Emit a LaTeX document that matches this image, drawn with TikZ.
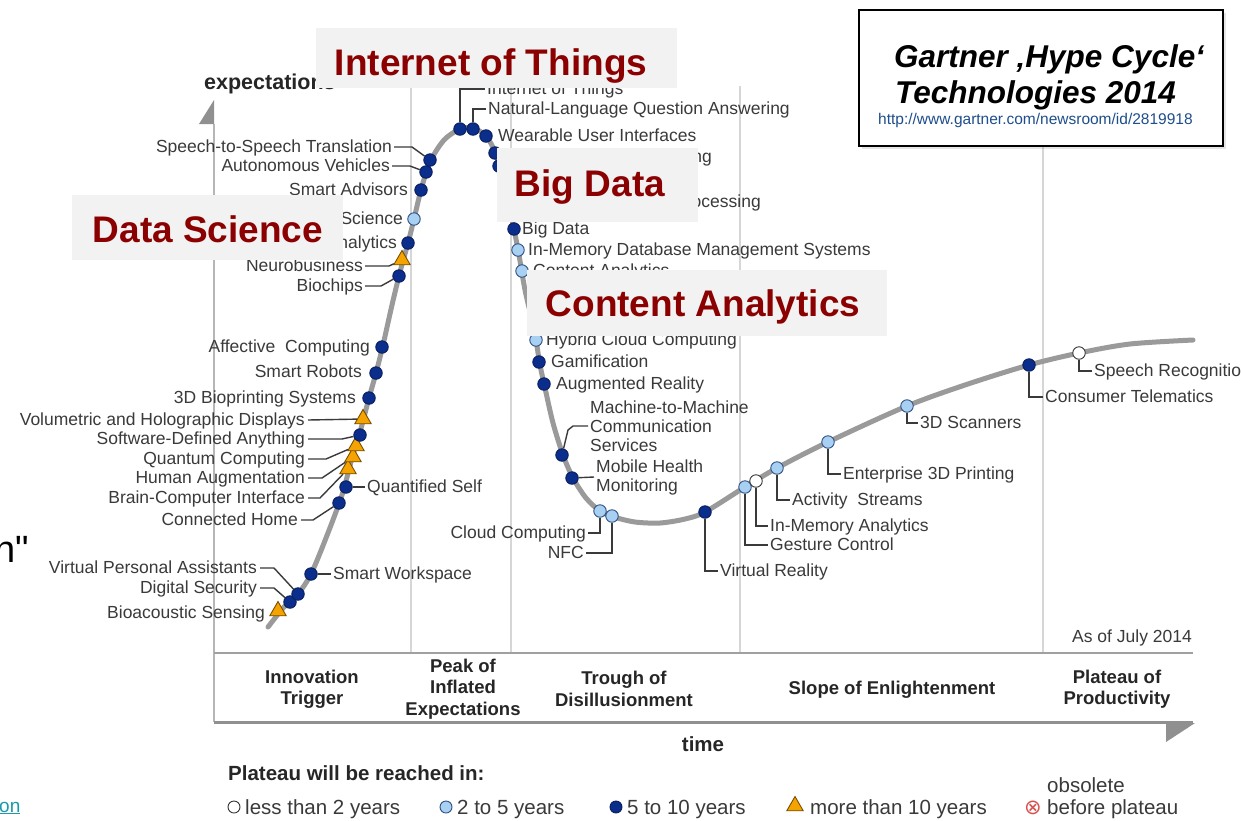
\documentclass[tikz,border=0pt]{standalone}
\usepackage{fontspec}
\setmainfont{Liberation Sans}
\newfontfamily\djv{DejaVu Sans}
\newfontfamily\rawfont[Ligatures=TeXOff]{Liberation Sans}
\usetikzlibrary{shapes.geometric,shadows}
\definecolor{dkblue}{HTML}{0B2D8C}
\definecolor{dkedge}{HTML}{0A1F5C}
\definecolor{ltblue}{HTML}{A8D0F2}
\definecolor{lbedge}{HTML}{2E4F7F}
\definecolor{whedge}{HTML}{333333}
\definecolor{trifill}{HTML}{F5A300}
\definecolor{triedge}{HTML}{7A4E00}
\definecolor{labc}{HTML}{3A3A3A}
\definecolor{leadc}{HTML}{3A3A3A}
\definecolor{gridc}{HTML}{D6D6D6}
\definecolor{axisc}{HTML}{A0A0A0}
\definecolor{curvc}{HTML}{9A9A9A}
\definecolor{boxgray}{HTML}{F2F2F2}
\definecolor{darkred}{HTML}{8B0000}
\definecolor{phasec}{HTML}{262626}
\definecolor{urlc}{HTML}{1F4E8C}
\definecolor{obsred}{HTML}{D9534F}
\definecolor{tealc}{HTML}{1B9AAA}
\tikzset{
  lbl/.style={font=\fontsize{17.5}{19}\selectfont, text=labc, inner sep=0pt},
  lab/.style={lbl, text height=12pt, text depth=0.5pt},
  mlab/.style={lbl, align=left},
  mk/.style={circle, minimum size=12.5pt, inner sep=0pt, line width=0.9pt},
  dk/.style={mk, draw=dkedge, fill=dkblue},
  lb/.style={mk, draw=lbedge, fill=ltblue},
  wh/.style={mk, draw=whedge, fill=white},
  tri/.style={regular polygon, regular polygon sides=3, minimum size=19pt, inner sep=0pt, draw=triedge, fill=trifill, line width=0.9pt},
  lead/.style={draw=leadc, line width=1.4pt},
  gridl/.style={draw=gridc, line width=2pt},
  redbox/.style={fill=boxgray, inner sep=0pt, anchor=north west},
  redtxt/.style={text=darkred, font=\bfseries\fontsize{37}{40}\selectfont, inner sep=0pt, text height=27pt, text depth=0pt},
  phase/.style={font=\bfseries\fontsize{18.5}{21.5}\selectfont, text=phasec, align=center, inner sep=0pt},
  leg/.style={font=\fontsize{20.5}{22}\selectfont, text=labc, inner sep=0pt, text height=14.5pt, text depth=0.5pt, anchor=west},
  legmk/.style={minimum size=12pt},
}
\begin{document}
\begin{tikzpicture}[x=1pt,y=-1pt]
\useasboundingbox (0,0) rectangle (1241,820);
\fill[white] (0,0) rectangle (1241,820);

% grid lines
\draw[gridl] (411,86) -- (411,653);
\draw[gridl] (511,86) -- (511,653);
\draw[gridl] (740,86) -- (740,653);
\draw[gridl] (1043,86) -- (1043,653);

% axes and phase band
\draw[draw=gridc!85!black, line width=2pt] (214,124) -- (214,722);
\fill[axisc!90!black] (214,100) -- (214,124) -- (199,124) -- cycle;
\draw[draw=axisc, line width=2.5pt] (214,653) -- (1193,653);
\draw[draw=axisc!90!black, line width=3pt] (214,722) -- (1193,722);
\fill[axisc!90!black] (1166,723) -- (1195,723) -- (1166,742) -- cycle;

% curve
\draw[draw=curvc, line width=5pt, line cap=round] plot[smooth, tension=0.5] coordinates {
(268,627) (284,607) (298,594) (311,574) (326,538) (342,495) (352,458) (360,432)
(369,398) (376,373) (383,345) (392,305) (400,272) (408,243) (414,219) (421,190)
(430,162) (444,140) (460,129) (473,128) (486,136) (495,152) (502,175) (508,200)
(514,229) (519,255) (525,290) (532,320) (536,340) (540,365) (545,388) (553,423)
(563,455) (573,478) (586,498) (600,511) (614,517) (635,522) (660,523) (685,519)
(705,512) (745,487) (777,468) (828,442) (907,406) (968,384) (1029,365) (1079,353)
(1130,344) (1193,340)};

% markers
\node[tri] (bsd) at (278,611) {};
\node[dk] (dsecd) at (290,602) {};
\node[dk] (vpad) at (298,594) {};
\node[dk] (swd) at (311,574) {};
\node[dk] (chd) at (339,503) {};
\node[dk] (qsd) at (346,487) {};
\node[tri] (bcid) at (348,469) {};
\node[tri] (had) at (353,457) {};
\node[tri] (qcd) at (356,446) {};
\node[dk] (sdad) at (360,435) {};
\node[tri] (vhdd) at (363,419) {};
\node[dk] (bpd) at (369,398) {};
\node[dk] (srd) at (376,373) {};
\node[dk] (acd) at (382,347) {};
\node[dk] (biod) at (399,276) {};
\node[tri] (neud) at (402,260) {};
\node[dk] (pad) at (408,243) {};
\node[lb] (dscd) at (414,219) {};
\node[dk] (sad) at (421,190) {};
\node[dk] (avd) at (426,172) {};
\node[dk] (s2sd) at (430,160) {};
\node[dk] (iotd) at (460,129) {};
\node[dk] (nlqd) at (473,129) {};
\node[dk] (wuid) at (486,136) {};
\node[dk] (c3dd) at (495,153) {};
\node[dk] (cryd) at (499,166) {};
\node[dk] (bdd) at (514,229) {};
\node[lb] (imdd) at (518,250) {};
\node[lb] (cad) at (522,271) {};
\node[lb] (hccd) at (536,340) {};
\node[dk] (gamd) at (539,362) {};
\node[dk] (ard) at (544,384) {};
\node[dk] (m2md) at (562,455) {};
\node[dk] (mhmd) at (572,478) {};
\node[lb] (ccd) at (600,511) {};
\node[lb] (nfcd) at (612,516) {};
\node[dk] (vrd) at (705,512) {};
\node[lb] (gcd) at (745,487) {};
\node[wh] (imad) at (756,481) {};
\node[lb] (asd) at (777,468) {};
\node[lb] (e3dd) at (828,442) {};
\node[lb] (s3dd) at (907,406) {};
\node[dk] (ctd) at (1029,365) {};
\node[wh] (sprd) at (1079,353) {};

% left labels
\node[lab, anchor=east] (s2sl) at (392,147) {Speech-to-Speech Translation};
\node[lab, anchor=east] (avl) at (390,166) {Autonomous Vehicles};
\node[lab, anchor=east] (sal) at (408,190) {Smart Advisors};
\node[lab, anchor=east] (dscl) at (403,219) {Data Science};
\node[lab, anchor=east] (pal) at (397,243) {Prescriptive Analytics};
\node[lab, anchor=east] (neul) at (363,266) {Neurobusiness};
\node[lab, anchor=east] (biol) at (363,286) {Biochips};
\node[lab, anchor=east] (acl) at (370,347) {Affective\ \ Computing};
\node[lab, anchor=east] (srl) at (362,372) {Smart Robots};
\node[lab, anchor=east] (bpl) at (356,398) {3D Bioprinting Systems};
\node[lab, anchor=east] (vhdl) at (305,420) {Volumetric and Holographic Displays};
\node[lab, anchor=east] (sdal) at (305,439) {Software-Defined Anything};
\node[lab, anchor=east] (qcl) at (305,459) {Quantum Computing};
\node[lab, anchor=east] (hal) at (305,478) {Human Augmentation};
\node[lab, anchor=east] (bcil) at (305,498) {Brain-Computer Interface};
\node[lab, anchor=east] (chl) at (298,520) {Connected Home};
\node[lab, anchor=east] (vpal) at (257,568) {Virtual Personal Assistants};
\node[lab, anchor=east] (dsecl) at (257,588) {Digital Security};
\node[lab, anchor=east] (bsl) at (265,613) {Bioacoustic Sensing};

% right labels
\node[lab, anchor=west] (qsl) at (367,487) {Quantified Self};
\node[lab, anchor=west] (swl) at (333,574) {Smart Workspace};
\node[lab, anchor=west] (iotl) at (487,89) {Internet of Things};
\node[lab, anchor=west] (nlql) at (488,109) {Natural-Language Question Answering};
\node[lab, anchor=west] (wuil) at (498,136) {Wearable User Interfaces};
\node[lab, anchor=east] (c3dl) at (712,157) {Consumer 3D Printing};
\node[lab, anchor=east] (cepl) at (761,202) {Complex-Event Processing};
\node[lab, anchor=west] (bdl) at (522,229) {Big Data};
\node[lab, anchor=west] (imdl) at (528,250) {In-Memory Database Management Systems};
\node[lab, anchor=west] (cal) at (533,271) {Content Analytics};
\node[lab, anchor=west] (hccl) at (546,340) {Hybrid Cloud Computing};
\node[lab, anchor=west] (gaml) at (551,362) {Gamification};
\node[lab, anchor=west] (arl) at (556,384) {Augmented Reality};
\node[mlab, anchor=west] (m2ml) at (590,426) {Machine-to-Machine\\Communication\\Services};
\node[mlab, anchor=west] (mhml) at (596,477) {Mobile Health\\Monitoring};
\node[lab, anchor=east] (ccl) at (586,533) {Cloud Computing};
\node[lab, anchor=east] (nfcl) at (584,553) {NFC};
\node[lab, anchor=west] (vrl) at (720,571) {Virtual Reality};
\node[lab, anchor=west] (gcl) at (770,545) {Gesture Control};
\node[lab, anchor=west] (imal) at (770,526) {In-Memory Analytics};
\node[lab, anchor=west] (asl) at (792,500) {Activity\ \ Streams};
\node[lab, anchor=west] (e3dl) at (843,474) {Enterprise 3D Printing};
\node[lab, anchor=west] (s3dl) at (920,423) {3D Scanners};
\node[lab, anchor=west] (ctl) at (1045,397) {Consumer Telematics};
\node[lab, anchor=west] (sprl) at (1094,371) {Speech Recognition};
\node[lab, anchor=east] (asof) at (1192,637) {As of July 2014};

% leader lines
\draw[lead] ([xshift=2]s2sl.east) -- ++(18,0) -- (s2sd);
\draw[lead] ([xshift=2]avl.east) -- ++(18,0) -- (avd);
\draw[lead] ([xshift=2]neul.east) -- ++(24,0) -- (neud);
\draw[lead] ([xshift=2]biol.east) -- ++(16,0) -- (biod);
\draw[lead] ([xshift=3]vhdl.east) -- (vhdd);
\draw[lead] ([xshift=3]sdal.east) -- ++(34,0) -- (sdad);
\draw[lead] ([xshift=3]qcl.east) -- ++(18,0) -- (qcd);
\draw[lead] ([xshift=3]hal.east) -- ++(14,0) -- (had);
\draw[lead] ([xshift=3]bcil.east) -- ++(12,0) -- (bcid);
\draw[lead] ([xshift=3]chl.east) -- ++(12,0) -- (chd);
\draw[lead] ([xshift=3]vpal.east) -- ++(14,0) -- (vpad);
\draw[lead] ([xshift=3]dsecl.east) -- ++(14,0) -- (dsecd);
\draw[lead] (qsd) -- ([xshift=-2]qsl.west);
\draw[lead] (swd) -- ([xshift=-2]swl.west);
\draw[lead] (iotd) |- ([xshift=-2]iotl.west);
\draw[lead] (nlqd) |- ([xshift=-2]nlql.west);
\draw[lead] (m2md) -- ++(6,-25) -- ++(5,-4) -- ([xshift=-2]m2ml.west);
\draw[lead] (mhmd) -- ([xshift=-2]mhml.west);
\draw[lead] (ccd) |- ([xshift=2]ccl.east);
\draw[lead] (nfcd) |- ([xshift=2]nfcl.east);
\draw[lead] (vrd) |- ([xshift=-2]vrl.west);
\draw[lead] (gcd) |- ([xshift=-2]gcl.west);
\draw[lead] (imad) |- ([xshift=-2]imal.west);
\draw[lead] (asd) |- ([xshift=-2]asl.west);
\draw[lead] (e3dd) |- ([xshift=-2]e3dl.west);
\draw[lead] (s3dd) |- ([xshift=-2]s3dl.west);
\draw[lead] (ctd) |- ([xshift=-2]ctl.west);
\draw[lead] (sprd) |- ([xshift=-2]sprl.west);

% phase labels
\node[phase] (ph1) at (312,689) {Innovation\\Trigger};
\node[phase] (ph2) at (463,689) {Peak of\\Inflated\\Expectations};
\node[phase] (ph3) at (624,689) {Trough of\\Disillusionment};
\node[phase] (ph4) at (892,690) {Slope of Enlightenment};
\node[phase] (ph5) at (1117,689) {Plateau of\\Productivity};

% axis titles
\node[font=\bfseries\fontsize{20.5}{22}\selectfont, text=phasec, inner sep=0pt, text height=15pt, text depth=0pt] (timel) at (703,744) {time};
\node[font=\bfseries\fontsize{21.5}{23}\selectfont, text=phasec, inner sep=0pt, anchor=west, text height=15pt, text depth=0pt] (expl) at (204,82) {expectations};

% legend
\node[font=\bfseries\fontsize{20.5}{22}\selectfont, text=phasec, inner sep=0pt, anchor=west, text height=15pt, text depth=0pt] (legt) at (228,773) {Plateau will be reached in:};
\node[wh, legmk] (lg1) at (234,807) {};
\node[leg] (lg1t) at (245,807) {less than 2 years};
\node[lb, legmk] (lg2) at (446,807) {};
\node[leg] (lg2t) at (457,807) {2 to 5 years};
\node[dk, legmk] (lg3) at (616,807) {};
\node[leg] (lg3t) at (627,807) {5 to 10 years};
\node[tri, minimum size=19pt] (lg4) at (795,806) {};
\node[leg] (lg4t) at (810,807) {more than 10 years};
\node[font=\djv\fontsize{21}{23}\selectfont, text=obsred, inner sep=0pt] (lg5) at (1033,808) {⊗};
\node[leg] (lg5a) at (1047,785) {obsolete};
\node[leg] (lg5b) at (1047,807) {before plateau};

% slide fragments
\node[font=\rawfont\fontsize{38}{40}\selectfont, text=black, inner sep=0pt, anchor=east] (frag1) at (29,549) {n"};
\node[font=\fontsize{19}{21}\selectfont, text=tealc, inner sep=0pt, anchor=west] (frag2) at (-1,808) {\underline{on}};

% highlight boxes
\node[redbox, minimum width=361, minimum height=60] (iotbox) at (316,28) {};
\node[redtxt] (iott) at (491,62) {Internet of Things};
\node[redbox, minimum width=271, minimum height=65] (dsbox) at (72,195) {};
\node[redtxt] (dst) at (208,229) {Data Science};
\node[redbox, minimum width=201, minimum height=74] (bdbox) at (497,148) {};
\node[redtxt] (bdt) at (590,183) {Big Data};
\node[redbox, minimum width=360, minimum height=66] (cabox) at (527,270) {};
\node[redtxt] (cat) at (703,303) {Content Analytics};

% title box
\node[draw=black, line width=2pt, fill=white, anchor=north west, minimum width=364, minimum height=136, inner sep=0pt, drop shadow={opacity=0.2, shadow xshift=3pt, shadow yshift=-3pt}] (tbox) at (858,9) {};
\node[font=\bfseries\itshape\fontsize{31.5}{34}\selectfont, inner sep=0pt, anchor=west, text height=22pt, text depth=0pt] (tl1) at (894,56) {Gartner ‚Hype Cycle‘};
\node[font=\bfseries\itshape\fontsize{31.5}{34}\selectfont, inner sep=0pt, anchor=west, text height=22pt, text depth=0pt] (tl2) at (895,92) {Technologies 2014};
\node[font=\fontsize{15.5}{17}\selectfont, text=urlc, inner sep=0pt, anchor=west, text height=11pt, text depth=0pt] (turl) at (878,119) {http://www.gartner.com/newsroom/id/2819918};
\end{tikzpicture}
\end{document}
